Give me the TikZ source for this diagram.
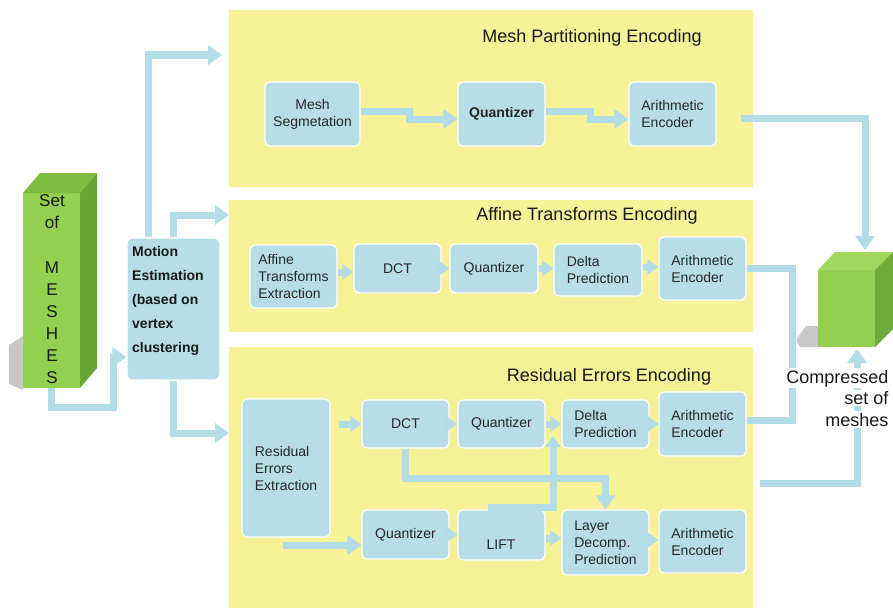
\documentclass[tikz,border=0pt]{standalone}
\usepackage{fontspec}
\setmainfont{Liberation Sans}
\usetikzlibrary{arrows.meta,calc}
\definecolor{panelY}{RGB}{247,241,152}
\definecolor{boxB}{RGB}{183,222,232}
\definecolor{connB}{RGB}{178,220,230}
\definecolor{gFront}{RGB}{146,208,80}
\definecolor{gTopA}{RGB}{125,190,65}
\definecolor{gSideA}{RGB}{105,165,50}
\definecolor{gTopB}{RGB}{160,215,95}
\definecolor{gSideB}{RGB}{110,170,55}
\definecolor{shadowG}{RGB}{200,200,200}
\newcommand\myrect[6]{\node[#1,minimum width={#4-#2},minimum height={#5-#3}] (#6) at ({(#2+#4)/2},{(#3+#5)/2})}
\begin{document}
\begin{tikzpicture}[x=1pt,y=-1pt,
  panel/.style={fill=panelY,draw=none,inner sep=0pt,outer sep=0pt},
  box/.style={fill=boxB,draw=white,line width=1.2pt,rounded corners=5pt,inner sep=2pt,
    font=\fontsize{14}{17}\selectfont,text=black!85,align=left},
  boxtext/.style={font=\fontsize{14}{17}\selectfont,text=black!85,inner sep=0pt},
  conn/.style={draw=connB,line width=7pt},
  bigarr/.style={conn,-{Triangle[width=19pt,length=14pt]}},
  smallarr/.style={conn,-{Triangle[width=15pt,length=11pt]}},
  title/.style={font=\fontsize{18}{22}\selectfont,text=black!90,inner sep=0pt},
  cmptext/.style={anchor=base east,fill=white,inner sep=1.5pt,font=\fontsize{18}{21.5}\selectfont,text=black!90},
]
\useasboundingbox (0,0) rectangle (893,610);
\fill[white] (0,0) rectangle (893,610);

% panels
\myrect{panel}{229}{10}{753}{187}{p1} {};
\myrect{panel}{229}{200}{753}{332}{p2} {};
\myrect{panel}{229}{347}{753}{608}{p3} {};
\node[title] (t1) at (592,38) {Mesh Partitioning Encoding};
\node[title] (t2) at (587,216) {Affine Transforms Encoding};
\node[title] (t3) at (609,377) {Residual Errors Encoding};

% column "Set of MESHES"
\fill[shadowG] (9,345) -- (23,336) -- (23,390) -- (9,384) -- cycle;
\myrect{fill=gFront,inner sep=0pt,outer sep=0pt}{23}{193}{80}{388}{col} {};
\fill[gTopA] (23,193) -- (40,173) -- (97,173) -- (80,193) -- cycle;
\fill[gSideA] (80,193) -- (97,173) -- (97,368) -- (80,388) -- cycle;
\node[anchor=north,align=center,inner sep=0pt,font=\fontsize{17}{22}\selectfont,text=black!90] (coltext) at (52,194)
  {Set\\of\\[23pt]M\\E\\S\\H\\E\\S};

% motion estimation
\myrect{fill=boxB,draw=white,line width=1.2pt,rounded corners=6pt}{127}{238}{220}{380}{me} {};
\node[anchor=north west,align=left,inner sep=0pt,font=\bfseries\fontsize{14}{24}\selectfont,text=black!90] (metext) at (132,246)
  {Motion\\Estimation\\(based on\\vertex\\clustering};

% compressed cube
\fill[shadowG] (796,340) -- (806,326) -- (818,326) -- (818,347) -- (800,347) -- cycle;
\myrect{fill=gFront,inner sep=0pt,outer sep=0pt}{818}{270}{875}{347}{cube} {};
\fill[gTopB] (818,270) -- (835,252) -- (893,252) -- (875,270) -- cycle;
\fill[gSideB] (875,270) -- (893,252) -- (893,329) -- (875,347) -- cycle;

% panel 1 boxes
\myrect{box,align=center}{265}{82}{360}{146}{ms} {Mesh\\Segmetation};
\myrect{box,font=\bfseries\fontsize{14}{17}\selectfont}{458}{82}{545}{146}{q1} {Quantizer};
\myrect{box}{629}{82}{716}{146}{ae1} {Arithmetic\\Encoder};

% panel 2 boxes
\myrect{box}{250}{245}{337}{308}{aff} {Affine\\Transforms\\Extraction};
\myrect{box,align=center}{354}{244}{441}{293}{dct2} {DCT};
\myrect{box}{450}{244}{538}{293}{q2} {Quantizer};
\myrect{box}{554}{244}{642}{296}{d2} {Delta\\Prediction};
\myrect{box}{659}{237}{746}{300}{ae2} {Arithmetic\\Encoder};

% panel 3 boxes
\myrect{box}{242}{399}{330}{537}{res} {Residual\\Errors\\Extraction};
\myrect{box,align=center}{362}{400}{449}{448}{dct3} {DCT};
\myrect{box}{458}{400}{545}{448}{q3} {Quantizer};
\myrect{box}{562}{400}{649}{448}{d3} {Delta\\Prediction};
\myrect{box}{659}{392}{746}{456}{ae3} {Arithmetic\\Encoder};
\myrect{box}{362}{510}{449}{559}{q4} {Quantizer};
\myrect{box}{458}{510}{545}{560}{lift} {};
\node[boxtext] (lifttext) at (501,545) {LIFT};
\myrect{box}{562}{510}{649}{575}{lay} {Layer\\Decomp.\\Prediction};
\myrect{box}{659}{510}{746}{573}{ae4} {Arithmetic\\Encoder};

% connectors: column -> motion estimation
\coordinate (k1) at (113,407);
\coordinate (k2) at (113,357);
\draw[bigarr] (col.south) |- (k1) -- (k2) -- (me.west |- k2);

% motion estimation -> panels
\coordinate (m1) at (148,55);
\coordinate (m1t) at (222,55);
\draw[bigarr] (me.north -| m1) -- (m1) -- (m1t);
\coordinate (m2) at (173,215);
\draw[bigarr] (me.north -| m2) -- (m2) -- (p2.west |- m2);
\coordinate (m3) at (173,433);
\draw[bigarr] (me.south -| m3) -- (m3) -- (p3.west |- m3);

% panel 1 arrows
\coordinate (j1a) at (409,111);
\coordinate (j1b) at (409,119);
\draw[bigarr] (ms.east |- j1a) -- (j1a) -- (j1b) -- (q1.west |- j1b);
\coordinate (j2a) at (590,111);
\coordinate (j2b) at (590,119);
\draw[bigarr] (q1.east |- j2a) -- (j2a) -- (j2b) -- (ae1.west |- j2b);

% panel 2 arrows
\draw[smallarr] (aff.east |- 0,272) -- (dct2.west |- 0,272);
\draw[smallarr] (dct2.east) -- (q2.west);
\draw[smallarr] (q2.east) -- (d2.west |- q2.east);
\draw[smallarr] (d2.east |- 0,267) -- (ae2.west |- 0,267);

% panel 3 arrows
\draw[smallarr] ($(res.east |- dct3.west)+(8,0)$) -- (dct3.west);
\draw[smallarr] (dct3.east) -- (q3.west);
\draw[smallarr] (q3.east) -- (d3.west);
\draw[smallarr] (d3.east) -- (ae3.west |- d3.east);
\coordinate (rb) at (283,545);
\draw[bigarr] (rb) -- (q4.west |- rb);
\draw[smallarr] (q4.east) -- (lift.west |- q4.east);
\draw[smallarr] (lift.east |- 0,538) -- (lay.west |- 0,538);
\draw[smallarr] (lay.east |- 0,540) -- (ae4.west |- 0,540);
\draw[bigarr] (dct3.south) -- ++(0,30) -| (lay.north);
\coordinate (lf) at (553,436);
\draw[smallarr] ($(lift.north)+(-14,-2)$) -| (lf);

% outputs to cube
\coordinate (o1) at (741,118);
\coordinate (ctop) at (865,250);
\draw[bigarr] (o1) -| (ctop);
\draw[conn] (ae2.east) -| ($(ae3.east)+(46,-4)$) -- (ae3.east |- 0,420);
\coordinate (o3) at (760,483);
\coordinate (cbot) at (857,349);
\draw[bigarr] (o3) -| (cbot);

\node[cmptext] (cmp1) at (890,383) {Compressed};
\node[cmptext] (cmp2) at (890,404.5) {set of};
\node[cmptext] (cmp3) at (890,426) {meshes};
\end{tikzpicture}
\end{document}
